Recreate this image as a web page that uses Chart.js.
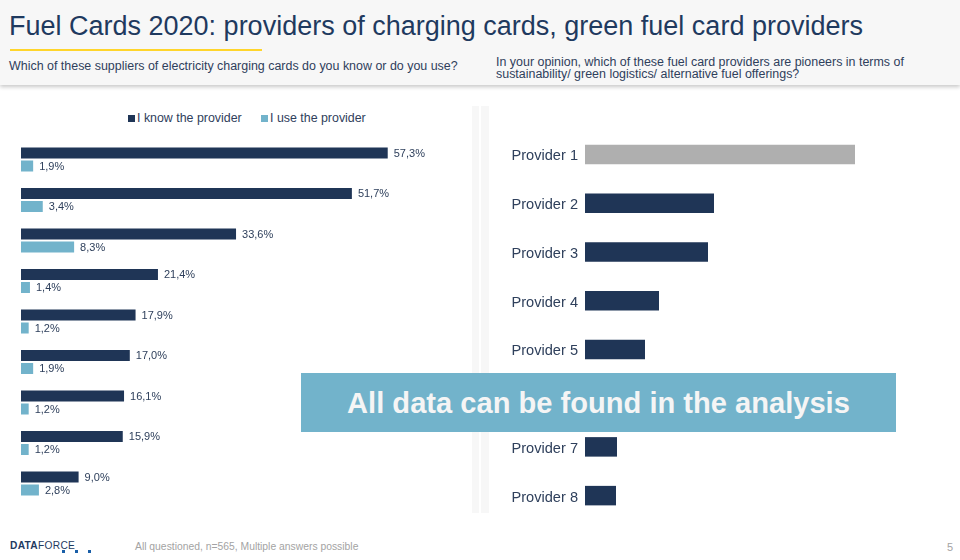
<!DOCTYPE html>
<html>
<head>
<meta charset="utf-8">
<script src="https://cdn.jsdelivr.net/npm/chart.js@4"></script>
<style>
  html, body { margin: 0; padding: 0; background: #fff; }
  body { width: 960px; height: 560px; position: relative; overflow: hidden; font-family: "Liberation Sans", Arial, sans-serif; color: #2f405c; }
  .abs { position: absolute; white-space: nowrap; }
  #header { left: 0; top: 0; width: 960px; height: 85px; background: #f7f7f7; box-shadow: 0 2px 4px rgba(0,0,0,0.22); }
  #title { left: 9px; top: 11px; font-size: 27px; line-height: 30px; color: #1f3a5f; }
  #rule { left: 10px; top: 49px; width: 252px; height: 2px; background: #ffd52b; }
  #subLeft { left: 9px; top: 59px; font-size: 12.45px; line-height: 14px; }
  #subRight { left: 496px; top: 56px; font-size: 12.45px; line-height: 12px; }
  .strip { top: 106px; height: 407px; background: #f7f7f7; }
  #leftWrap { left: 0; top: 100px; width: 494px; height: 420px; }
  #rightWrap { left: 490px; top: 130px; width: 470px; height: 390px; }
  .legendText { top: 111px; font-size: 12.4px; line-height: 14px; }
  .swatch { top: 115px; width: 7px; height: 7px; }
  #banner { left: 301px; top: 373px; width: 595px; height: 59px; background: #72b3cb; color: #f5f5f5; font-weight: bold; font-size: 29.1px; line-height: 61px; text-align: center; }
  #logo { left: 10px; top: 540px; font-size: 10.2px; line-height: 12px; color: #1f3a5f; letter-spacing: 0.3px; }
  .dot { top: 550px; width: 3px; height: 3px; background: #1a5fa8; }
  #note { left: 135px; top: 540px; font-size: 10.35px; line-height: 14px; color: #a3a3a3; }
  #page { left: 947px; top: 540px; font-size: 11px; line-height: 14px; color: #a3a3a3; }
</style>
</head>
<body>
<div class="abs" id="header"></div>
<div class="abs" id="title">Fuel Cards 2020: providers of charging cards, green fuel card providers</div>
<div class="abs" id="rule"></div>
<div class="abs" id="subLeft">Which of these suppliers of electricity charging cards do you know or do you use?</div>
<div class="abs" id="subRight">In your opinion, which of these fuel card providers are pioneers in terms of<br>sustainability/ green logistics/ alternative fuel offerings?</div>
<div class="abs strip" style="left:472px;width:7px"></div>
<div class="abs strip" style="left:481px;width:8px"></div>
<div id="legendBox"></div>
<div class="abs" id="leftWrap"><canvas id="knowChart" width="494" height="420"></canvas></div>
<div class="abs" id="rightWrap"><canvas id="greenChart" width="470" height="390"></canvas></div>
<div class="abs" id="banner">All data can be found in the analysis</div>
<div class="abs" id="logo"><b>DATA</b>FORCE</div>
<div class="abs dot" style="left:62px"></div>
<div class="abs dot" style="left:75px"></div>
<div class="abs dot" style="left:88px"></div>
<div class="abs" id="note">All questioned, n=565, Multiple answers possible</div>
<div class="abs" id="page">5</div>

<script>
const supplierSlots = ['1', '2', '3', '4', '5', '6', '7', '8', '9'];
const knowValues = [57.3, 51.7, 33.6, 21.4, 17.9, 17.0, 16.1, 15.9, 9.0];
const useValues = [1.9, 3.4, 8.3, 1.4, 1.2, 1.9, 1.2, 1.2, 2.8];
const seriesNames = ['I know the provider', 'I use the provider'];
const seriesColors = ['#1f3556', '#72b3cb'];

const providerNames = ['Provider 1', 'Provider 2', 'Provider 3', 'Provider 4', 'Provider 5', 'Provider 6', 'Provider 7', 'Provider 8'];
// no labels in the picture. Provider 6 sits behind the banner
const pioneerValues = [27.0, 12.9, 12.3, 7.4, 6.0, 4.0, 3.2, 3.1];
const pioneerColors = ['#afafaf', '#1f3556', '#1f3556', '#1f3556', '#1f3556', '#1f3556', '#1f3556', '#1f3556'];

const textColor = '#2f405c';
const fontName = '"Liberation Sans", Arial, sans-serif';

// the chart.js legend keeps too wide a gap after the box, so this one is plain html
const legendLefts = [128, 261];
const legendBox = document.getElementById('legendBox');
seriesNames.forEach((name, i) => {
    const swatch = document.createElement('div');
    swatch.className = 'abs swatch';
    swatch.style.left = legendLefts[i] + 'px';
    swatch.style.background = seriesColors[i];
    legendBox.appendChild(swatch);
    const label = document.createElement('div');
    label.className = 'abs legendText';
    label.style.left = (legendLefts[i] + 9) + 'px';
    label.textContent = name;
    legendBox.appendChild(label);
});

// percent labels with comma decimals next to each bar
const barLabels = {
    id: 'barLabels',
    afterDatasetsDraw(chart) {
        const ctx = chart.ctx;
        ctx.save();
        ctx.font = '11px ' + fontName;
        ctx.fillStyle = textColor;
        ctx.textBaseline = 'middle';
        chart.data.datasets.forEach((ds, i) => {
            chart.getDatasetMeta(i).data.forEach((bar, j) => {
                ctx.fillText(ds.data[j].toFixed(1).replace('.', ',') + '%', bar.x + 6, bar.y + 0.5);
            });
        });
        ctx.restore();
    }
};

new Chart(document.getElementById('knowChart'), {
    type: 'bar',
    data: {
        labels: supplierSlots,
        datasets: [
            { label: seriesNames[0], data: knowValues, backgroundColor: seriesColors[0], categoryPercentage: 0.642, barPercentage: 0.846 },
            { label: seriesNames[1], data: useValues, backgroundColor: seriesColors[1], categoryPercentage: 0.642, barPercentage: 0.846 }
        ]
    },
    options: {
        indexAxis: 'y',
        responsive: false,
        animation: false,
        layout: { autoPadding: false, padding: { left: 21, right: 25, top: 39.25, bottom: 16.25 } },
        plugins: { legend: { display: false }, tooltip: { enabled: false } },
        scales: {
            x: { display: false, min: 0, max: 70 },
            y: { display: false }
        }
    },
    plugins: [barLabels]
});

new Chart(document.getElementById('greenChart'), {
    type: 'bar',
    data: {
        labels: providerNames,
        datasets: [{ data: pioneerValues, backgroundColor: pioneerColors, categoryPercentage: 1, barPercentage: 0.4 }]
    },
    options: {
        indexAxis: 'y',
        responsive: false,
        animation: false,
        layout: { autoPadding: false, padding: 0 },
        plugins: { legend: { display: false }, tooltip: { enabled: false } },
        scales: {
            x: { display: false, min: 0, max: 37.5 },
            y: {
                grid: { display: false, drawTicks: false },
                border: { display: false },
                ticks: { color: textColor, padding: 7, labelOffset: 2, autoSkip: false, font: { size: 14.6, family: fontName } },
                afterFit(scale) {
                    scale.width = 95;
                    scale.paddingTop = 0;
                    scale.paddingBottom = 0;
                }
            }
        }
    }
});
</script>
</body>
</html>
